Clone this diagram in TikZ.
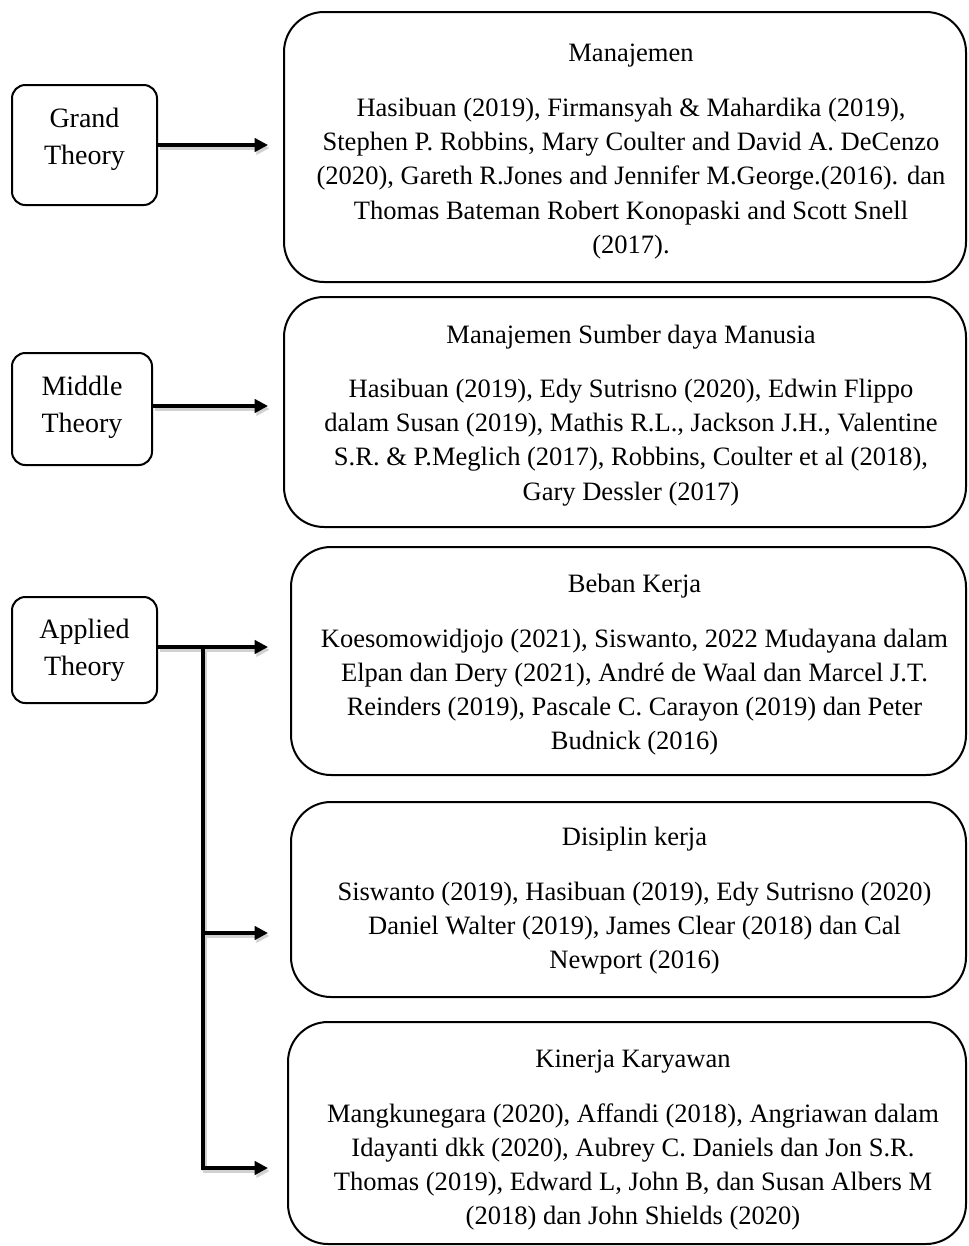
\documentclass[tikz,border=0pt]{standalone}
\usepackage{fontspec}
\setmainfont{Liberation Serif}
\usetikzlibrary{arrows.meta,calc}
\begin{document}
\begin{tikzpicture}[x=0.75pt,y=-0.75pt,
  smallbox/.style={draw, line width=1.5pt, rounded corners=10pt, inner sep=0pt},
  smalltext/.style={align=center, font=\fontsize{21pt}{27.75pt}\selectfont, inner sep=0pt},
  bigbox/.style={draw, line width=1.5pt, rounded corners=30pt, inner sep=0pt, minimum width=#1},
  bigtext/.style={align=center, font=\fontsize{19.9pt}{25.7pt}\selectfont, inner sep=0pt, xshift=4.5pt},
  conn/.style={line width=2.4pt,
    preaction={draw=black!18, line width=3.5pt, transform canvas={shift={(1.2pt,-2.2pt)}}}},
  arr/.style={conn, -{Triangle[length=10pt,width=10pt]}}]
\useasboundingbox (0,0) rectangle (969,1246);

% left boxes
\node[smallbox, minimum width=108.75pt, minimum height=90pt,
  label={[smalltext, yshift=4.5pt]center:Grand\\Theory}] (grand) at (84.5,145) {};
\node[smallbox, minimum width=105pt, minimum height=84pt,
  label={[smalltext, yshift=1.5pt]center:Middle\\Theory}] (mid) at (82,409) {};
\node[smallbox, minimum width=108.75pt, minimum height=79.5pt,
  label={[smalltext]center:Applied\\Theory}] (app) at (84.5,650) {};

% right boxes
\node[bigbox=511.5pt, minimum height=202.5pt,
  label={[bigtext, yshift=-3.5pt]center:Manajemen\\[15pt]
  Hasibuan (2019), Firmansyah \& Mahardika (2019),\\
  Stephen P. Robbins, Mary Coulter and David A. DeCenzo\\
  (2020), Gareth R.Jones and Jennifer M.George.(2016). dan\\
  Thomas Bateman Robert Konopaski and Scott Snell\\
  (2017).}] (man) at (625,147) {};
\node[bigbox=511.5pt, minimum height=172.5pt,
  label={[bigtext, yshift=-2.5pt]center:Manajemen Sumber daya Manusia\\[15pt]
  Hasibuan (2019), Edy Sutrisno (2020), Edwin Flippo\\
  dalam Susan (2019), Mathis R.L., Jackson J.H., Valentine\\
  S.R. \& P.Meglich (2017), Robbins, Coulter et al (2018),\\
  Gary Dessler (2017)}] (msdm) at (625,412) {};
\node[bigbox=506.25pt, minimum height=171pt,
  label={[bigtext, yshift=-3pt]center:Beban Kerja\\[15pt]
  Koesomowidjojo (2021), Siswanto, 2022 Mudayana dalam\\
  Elpan dan Dery (2021), André de Waal dan Marcel J.T.\\
  Reinders (2019), Pascale C. Carayon (2019) dan Peter\\
  Budnick (2016)}] (beban) at (628.5,661) {};
\node[bigbox=506.25pt, minimum height=146.25pt,
  label={[bigtext, yshift=-1pt]center:Disiplin kerja\\[15pt]
  Siswanto (2019), Hasibuan (2019), Edy Sutrisno (2020)\\
  Daniel Walter (2019), James Clear (2018) dan Cal\\
  Newport (2016)}] (dis) at (628.5,899.5) {};
\node[bigbox=508.5pt, minimum height=166.5pt,
  label={[bigtext, yshift=-5.5pt]center:Kinerja Karyawan\\[15pt]
  Mangkunegara (2020), Affandi (2018), Angriawan dalam\\
  Idayanti dkk (2020), Aubrey C. Daniels dan Jon S.R.\\
  Thomas (2019), Edward L, John B, dan Susan Albers M\\
  (2018) dan John Shields (2020)}] (kin) at (627,1133) {};

% connector points
\coordinate (ga) at (268,145);
\coordinate (ma) at (268,406);
\coordinate (aa) at (268,647);
\coordinate (jt) at (203,647);
\coordinate (jd) at (203,933);
\coordinate (jb) at (203,1168);
\coordinate (da) at (268,933);
\coordinate (ka) at (268,1168);

\draw[arr] (grand.east) -- (ga);
\draw[arr] (mid.east |- ma) -- (ma);
\draw[arr] (app.east |- aa) -- (aa);
\draw[conn] (jt) -- (jb);
\draw[arr] (jd) -- (da);
\draw[arr] ([xshift=-1.2pt]jb) -- (ka);
\end{tikzpicture}
\end{document}
